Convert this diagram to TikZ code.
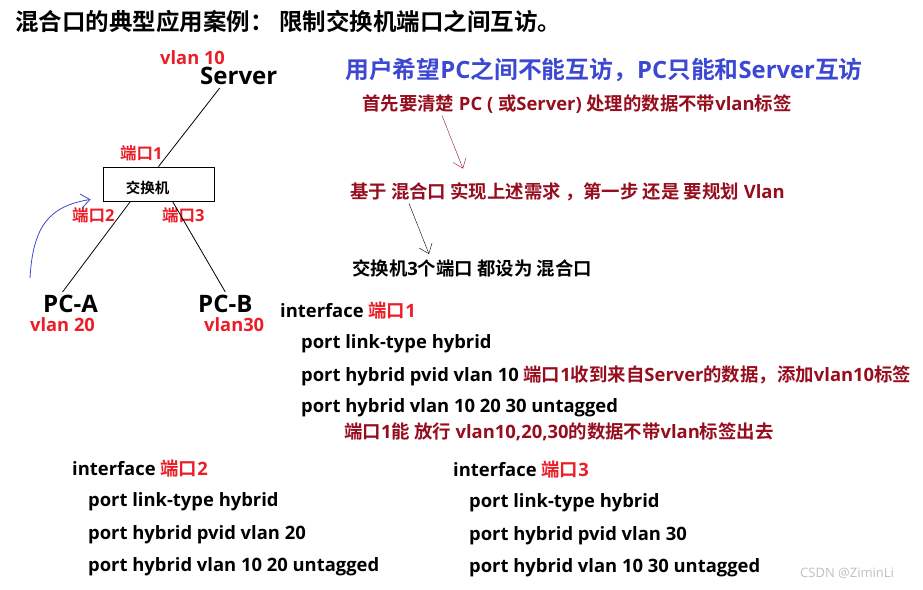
\documentclass[tikz,border=0pt]{standalone}
\usepackage{fontspec}
\setmainfont{Open Sans}[BoldFont={Open Sans Bold}]
\newfontfamily\cjk{Noto Sans CJK SC}[BoldFont={Noto Sans CJK SC Bold}]
\usetikzlibrary{arrows.meta}
\definecolor{hintblue}{RGB}{60,72,210}
\definecolor{darkred}{RGB}{150,14,30}
\definecolor{portred}{RGB}{235,30,40}
\newcommand{\zh}[1]{{\cjk #1}}
\begin{document}
\begin{tikzpicture}[x=1pt,y=1pt,
txt/.style={anchor=west, inner sep=0pt, font=\bfseries\fontsize{18.4}{22}\selectfont},
big/.style={anchor=west, inner sep=0pt, font=\bfseries\fontsize{24}{28}\selectfont},
vlan/.style={anchor=west, inner sep=0pt, text=portred, font=\bfseries\fontsize{18.3}{22}\selectfont},
port/.style={anchor=west, inner sep=0pt, text=portred, font=\bfseries\fontsize{16.5}{19}\selectfont},
note/.style={txt, text=darkred},
sw/.style={draw, thick, minimum width=111pt, minimum height=34pt},
link/.style={thick},
hint/.style={-{Straight Barb[length=9pt,width=14pt]}}
]
\useasboundingbox (0,0) rectangle (923,-589);
% title
\node[big, font=\bfseries\fontsize{23.5}{26}\selectfont] (title) at (15,-22) {\zh{混合口的典型应用案例： 限制交换机端口之间互访。}};
% topology
\node[vlan] (v10) at (160,-58) {vlan 10};
\node[big] (server) at (200,-76) {Server};
\node[sw] (switch) at (158.5,-184) {};
\node[inner sep=0pt, font=\bfseries\fontsize{14.5}{16}\selectfont] (swname) at ([xshift=-11pt,yshift=-4pt]switch.center) {\zh{交换机}};
\node[port] (p1) at (120,-153) {\zh{端口}1};
\node[port] (p2) at (72,-215) {\zh{端口}2};
\node[port] (p3) at (162,-215) {\zh{端口}3};
\node[big] (pca) at (43,-304) {PC-A};
\node[big] (pcb) at (198,-304) {PC-B};
\node[vlan] (v20) at (30,-325) {vlan 20};
\node[vlan] (v30) at (204,-325) {vlan30};
\draw[link] (switch.north) -- ([xshift=-19pt,yshift=-3pt]server.south);
\draw[link] ([xshift=-28pt]switch.south) -- ([xshift=-8pt,yshift=3pt]pca.north);
\draw[link] ([xshift=14pt]switch.south) -- ([yshift=3pt]pcb.north);
\coordinate (bstart) at (30,-278);
\draw[hint, hintblue, thick] (bstart) .. controls (33,-225) and (50,-206) .. ([xshift=-12pt,yshift=2pt]switch.south west);
% requirement notes
\node[big, text=hintblue, font=\bfseries\fontsize{23.8}{28}\selectfont] (goal) at (345,-70) {\zh{用户希望}PC\zh{之间不能互访，}PC\zh{只能和}Server\zh{互访}};
\node[note] (first) at (362,-104) {\zh{首先要清楚} PC ( \zh{或}Server) \zh{处理的数据不带}vlan\zh{标签}};
\node[note] (plan) at (350,-192) {\zh{基于 混合口 实现上述需求 ，第一步 还是 要规划} Vlan};
\node[txt] (all) at (352,-268) {\zh{交换机}3\zh{个端口 都设为 混合口}};
\draw[hint, darkred] ([xshift=80pt,yshift=-2pt]first.south west) -- ([xshift=113pt,yshift=14pt]plan.north west);
\draw[hint, black] ([xshift=59pt,yshift=-2pt]plan.south west) -- ([xshift=77pt,yshift=5pt]all.north west);
% port 1
\node[txt] (if1) at (280,-311) {interface \textcolor{portred}{\zh{端口}1}};
\node[txt] (a1) at (301,-344) {port link-type hybrid};
\node[txt] (b1) at (301,-376) {port hybrid pvid vlan 10 \textcolor{darkred}{\zh{端口}1\zh{收到来自}Server\zh{的数据，添加}vlan10\zh{标签}}};
\node[txt] (c1) at (301,-408) {port hybrid vlan 10 20 30 untagged};
\node[note] (d1) at (344,-432) {\zh{端口}1\zh{能 放行} vlan10,20,30\zh{的数据不带}vlan\zh{标签出去}};
% port 2
\node[txt] (if2) at (72,-469) {interface \textcolor{portred}{\zh{端口}2}};
\node[txt] (a2) at (88,-502) {port link-type hybrid};
\node[txt] (b2) at (88,-535) {port hybrid pvid vlan 20};
\node[txt] (c2) at (88,-567) {port hybrid vlan 10 20 untagged};
% port 3
\node[txt] (if3) at (453,-470) {interface \textcolor{portred}{\zh{端口}3}};
\node[txt] (a3) at (469,-503) {port link-type hybrid};
\node[txt] (b3) at (469,-536) {port hybrid pvid vlan 30};
\node[txt] (c3) at (469,-568) {port hybrid vlan 10 30 untagged};
\node[anchor=west, inner sep=0pt, text=black!25, font=\fontsize{13}{15}\selectfont] (mark) at (800,-573) {CSDN @ZiminLi};
\end{tikzpicture}
\end{document}
